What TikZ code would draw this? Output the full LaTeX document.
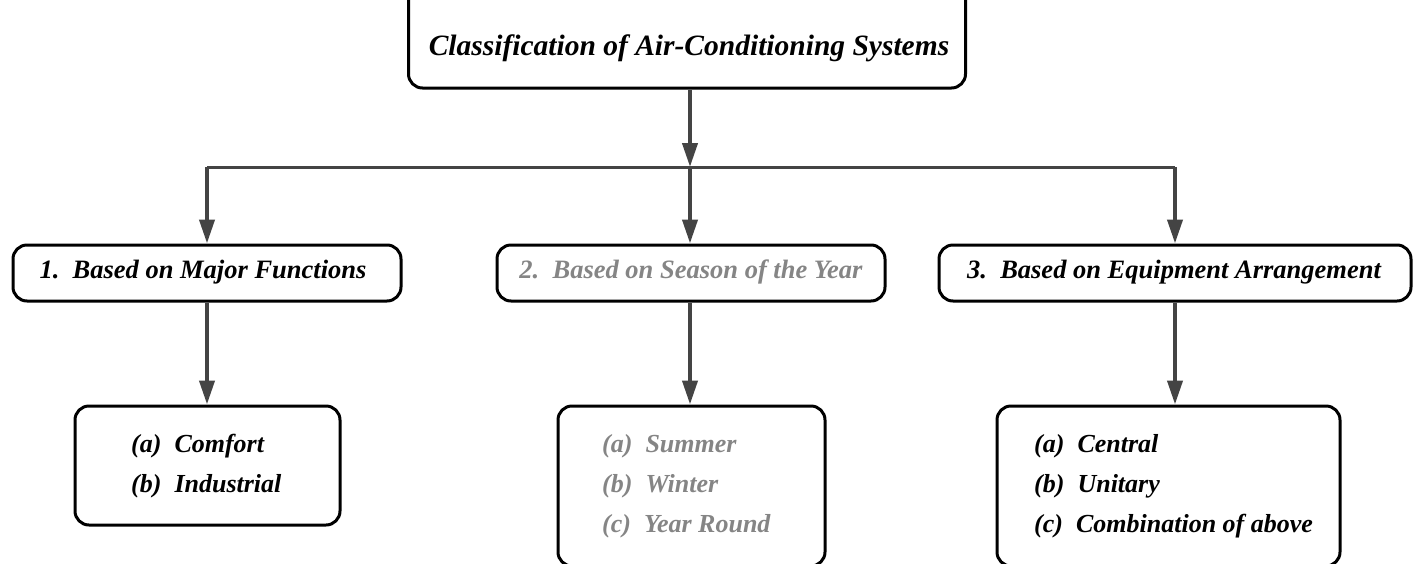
\documentclass[tikz,border=0pt]{standalone}
\usepackage{fontspec}
\setmainfont{Liberation Serif}
\usetikzlibrary{arrows.meta}
\definecolor{lineg}{HTML}{444444}
\definecolor{txtg}{HTML}{858585}
\tikzset{
  box/.style={draw=black, line width=3pt, rounded corners=14pt, fill=white, inner sep=0pt},
  arr/.style={draw=lineg, line width=4pt, -{Triangle[length=24pt,width=15pt]}},
  hline/.style={draw=lineg, line width=3pt},
  ttl/.style={font=\fontsize{29.5}{34}\selectfont\bfseries\itshape},
  lvl/.style={font=\fontsize{26.5}{30}\selectfont\bfseries\itshape},
  itm/.style={font=\fontsize{26}{40}\selectfont\bfseries\itshape, align=left, anchor=west, inner sep=0pt},
}
\begin{document}
\begin{tikzpicture}[x=1pt,y=-1pt]
\useasboundingbox (0,0) rectangle (1414,563);
\clip (0,0) rectangle (1414,563);
% top box
\node[box, minimum width=557pt, minimum height=110pt] (top) at (687,33) {};
\node[ttl] (toptxt) at (689,48) {Classification of Air-Conditioning Systems};
% level 2
\node[box, minimum width=388pt, minimum height=56pt] (b1) at (207,273) {};
\node[lvl] (b1t) at (203,272) {1.\ \ Based on Major Functions};
\node[box, minimum width=388pt, minimum height=56pt] (b2) at (691,273) {};
\node[lvl, text=txtg] (b2t) at (691,272) {2.\ \ Based on Season of the Year};
\node[box, minimum width=472pt, minimum height=56pt] (b3) at (1175,273) {};
\node[lvl] (b3t) at (1174,272) {3.\ \ Based on Equipment Arrangement};
% level 3
\node[box, minimum width=265pt, minimum height=119pt] (c1) at (207.5,465.5) {};
\node[itm] (c1t) at (131,466) {(a)\ \ Comfort\\(b)\ \ Industrial};
\node[box, minimum width=267pt, minimum height=160pt] (c2) at (691.5,486) {};
\node[itm, text=txtg] (c2t) at (602,486) {(a)\ \ Summer\\(b)\ \ Winter\\(c)\ \ Year Round};
\node[box, minimum width=343pt, minimum height=160pt] (c3) at (1168.5,486) {};
\node[itm] (c3t) at (1034,486) {(a)\ \ Central\\(b)\ \ Unitary\\(c)\ \ Combination of above};
% connectors
\coordinate (j) at (690,167);
\coordinate (jl) at (207,167);
\coordinate (jr) at (1175,167);
\draw[hline] (jl) -- (jr);
\draw[arr] (top.south -| j) -- (j);
\draw[arr] (jl) -- (jl |- b1.north);
\draw[arr] (j) -- (j |- b2.north);
\draw[arr] (jr) -- (jr |- b3.north);
\draw[arr] (b1.south) -- (b1.south |- c1.north);
\draw[arr] (b2.south -| j) -- (j |- c2.north);
\draw[arr] (b3.south -| jr) -- (jr |- c3.north);
\end{tikzpicture}
\end{document}
